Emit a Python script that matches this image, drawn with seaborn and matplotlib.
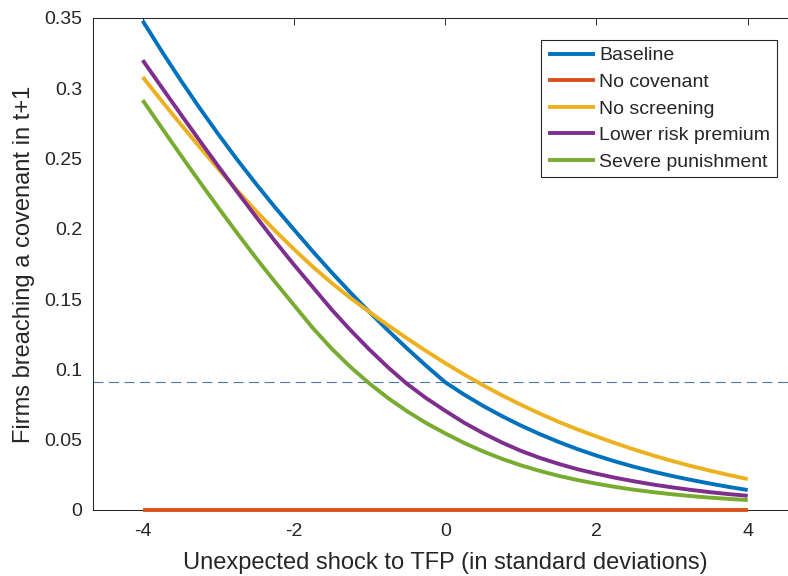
import matplotlib
matplotlib.use("Agg")
import matplotlib.pyplot as plt
from matplotlib.ticker import FormatStrFormatter
import seaborn as sns
import pandas as pd

# ---- data ----
shock = [-4, -3.75, -3.5, -3.25, -3, -2.75, -2.5, -2.25, -2, -1.75, -1.5, -1.25, -1, -0.75,
         -0.5, -0.25, 0, 0.25, 0.5, 0.75, 1, 1.25, 1.5, 1.75, 2, 2.25, 2.5, 2.75, 3, 3.25,
         3.5, 3.75, 4]
baseline = [0.348, 0.3265, 0.3059, 0.2862, 0.2673, 0.2492, 0.2319, 0.2153, 0.1995, 0.1839,
            0.1689, 0.1545, 0.1407, 0.1274, 0.1147, 0.1025, 0.0909, 0.0821, 0.0741, 0.0668,
            0.0601, 0.0540, 0.0484, 0.0433, 0.0387, 0.0345, 0.0307, 0.0273, 0.0242, 0.0214,
            0.0188, 0.0164, 0.0142]
no_covenant = [0, 0, 0, 0, 0, 0, 0, 0, 0, 0, 0, 0, 0, 0, 0, 0, 0, 0, 0, 0, 0, 0, 0, 0,
               0, 0, 0, 0, 0, 0, 0, 0, 0]
no_screening = [0.308, 0.2911, 0.2746, 0.2584, 0.2426, 0.2273, 0.2126, 0.1987, 0.1855, 0.1730,
                0.1614, 0.1507, 0.1408, 0.1312, 0.1219, 0.1130, 0.1045, 0.0964, 0.0888, 0.0816,
                0.0749, 0.0686, 0.0627, 0.0573, 0.0523, 0.0475, 0.0430, 0.0388, 0.0349, 0.0313,
                0.0280, 0.0249, 0.0220]
lower_risk_premium = [0.320, 0.3008, 0.2818, 0.2630, 0.2445, 0.2263, 0.2085, 0.1912, 0.1745,
                      0.1585, 0.1425, 0.1278, 0.1140, 0.1012, 0.0895, 0.0795, 0.0706, 0.0621,
                      0.0547, 0.0480, 0.0421, 0.0371, 0.0328, 0.0290, 0.0258, 0.0229, 0.0204,
                      0.0181, 0.0161, 0.0143, 0.0127, 0.0113, 0.0101]
severe_punishment = [0.2916, 0.2720, 0.2527, 0.2337, 0.2151, 0.1969, 0.1792, 0.1622, 0.1458,
                     0.1294, 0.1147, 0.1016, 0.0899, 0.0794, 0.0701, 0.0618, 0.0545, 0.0477,
                     0.0417, 0.0364, 0.0318, 0.0278, 0.0243, 0.0213, 0.0187, 0.0164, 0.0144,
                     0.0127, 0.0112, 0.0099, 0.0088, 0.0079, 0.0071]
series_names = ["Baseline", "No covenant", "No screening", "Lower risk premium", "Severe punishment"]
ref_level = 0.0913
xticks = [-4, -2, 0, 2, 4]
yticks = [0, 0.05, 0.1, 0.15, 0.2, 0.25, 0.3, 0.35]

colors = ["#0072BD", "#D95319", "#EDB120", "#7E2F8E", "#77AC30"]

frames = []
for name, vals in zip(series_names, [baseline, no_covenant, no_screening,
                                     lower_risk_premium, severe_punishment]):
    frames.append(pd.DataFrame({"x": shock, "y": vals, "series": name}))
df = pd.concat(frames, ignore_index=True)

sns.set_style("white")
plt.rcParams["font.family"] = ["Liberation Sans", "DejaVu Sans"]
TXT = "#262626"

fig = plt.figure(figsize=(7.88, 5.76), dpi=100)
# axis box runs past the right edge of the picture, as in the (cropped) reference
ax = fig.add_axes([93 / 788, 66 / 576, 704.4 / 788, 492 / 576])

ax.axhline(ref_level, color="#4a78a8", lw=0.8, dashes=[9, 5], zorder=1)

sns.lineplot(data=df, x="x", y="y", hue="series", hue_order=series_names,
             palette=colors, linewidth=2.8, ax=ax, zorder=3)
for ln in ax.lines:
    ln.set_clip_on(False)
    ln.set_solid_capstyle("butt")
    ln.set_solid_joinstyle("round")

ax.set_xlim(-4.657, 4.657)
ax.set_ylim(0, 0.35)
ax.set_xticks(xticks)
ax.set_yticks(yticks)
ax.yaxis.set_major_formatter(FormatStrFormatter("%g"))
ax.xaxis.set_major_formatter(FormatStrFormatter("%g"))

ax.tick_params(direction="in", length=5, width=0.7, top=True, right=False,
               labelsize=14, colors=TXT)
ax.tick_params(axis="y", pad=8)
ax.tick_params(axis="x", pad=9)
for name, sp in ax.spines.items():
    sp.set_color(TXT)
    sp.set_linewidth(0.75)
ax.spines["right"].set_visible(False)

ax.set_xlabel("Unexpected shock to TFP (in standard deviations)", fontsize=17, color=TXT, labelpad=9)
ax.set_ylabel("Firms breaching a covenant in t+1", fontsize=17, color=TXT)
ax.yaxis.set_label_coords(-0.083, 0.5)

handles, labels = ax.get_legend_handles_labels()
leg = ax.legend(handles, labels, loc="upper left",
                bbox_to_anchor=(541 / 788, 1 - 40 / 576), bbox_transform=fig.transFigure,
                borderaxespad=0, fontsize=14, frameon=True, fancybox=False,
                framealpha=1, edgecolor=TXT, handlelength=2.45, handletextpad=0.2,
                borderpad=0.35, labelspacing=0.46)
leg.get_frame().set_linewidth(0.8)
for t in leg.get_texts():
    t.set_color(TXT)
for lh in leg.get_lines():
    lh.set_linewidth(2.8)

fig.savefig("out.png", dpi=100)
